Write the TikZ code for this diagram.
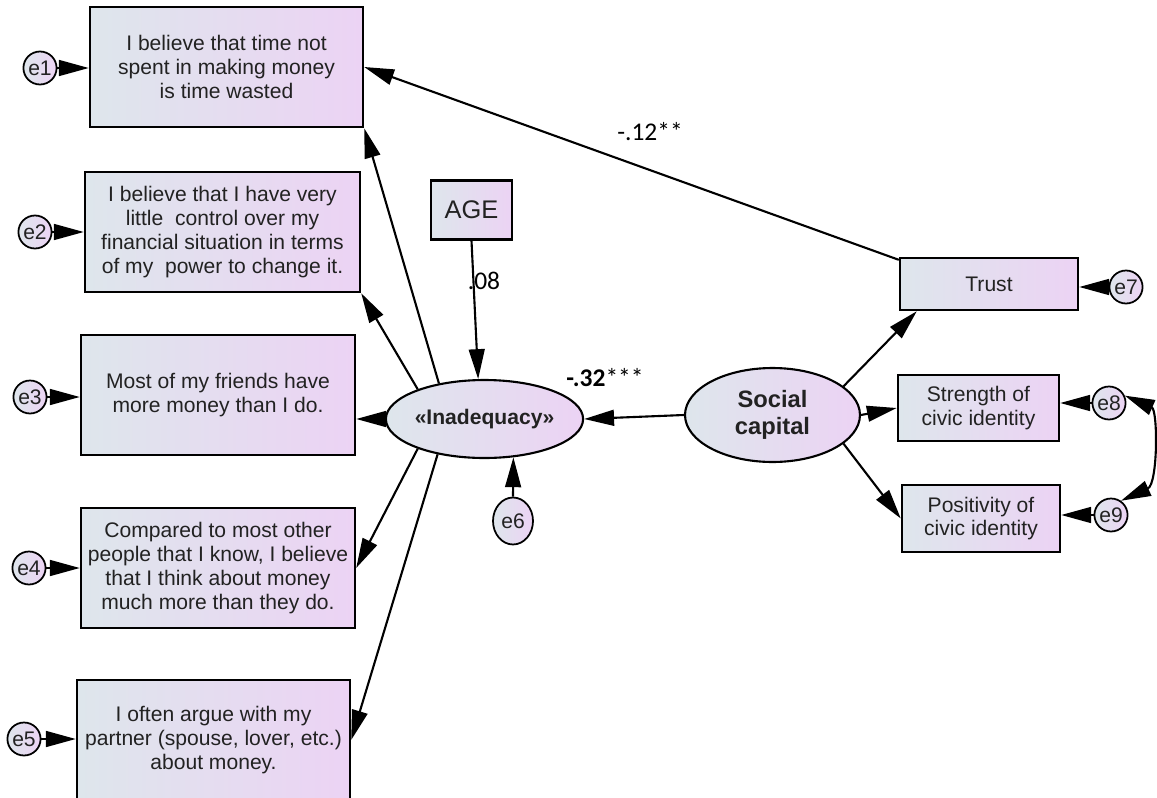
\documentclass[tikz,border=0pt]{standalone}
\usepackage{fontspec}
\setmainfont{Liberation Sans}
\newfontfamily\coeffont{Carlito}
\usetikzlibrary{arrows.meta,shapes.geometric}

\definecolor{fillleft}{RGB}{222,230,236}
\definecolor{fillright}{RGB}{236,211,244}
\definecolor{itemtext}{RGB}{34,34,34}

\begin{document}
\begin{tikzpicture}[
  x=0.02cm,
  y=-0.02cm,
  font=\fontsize{12}{13.6}\selectfont,
  item/.style={draw=black, line width=1.4pt, left color=fillleft, right color=fillright,
    text=itemtext, align=center, inner sep=1pt},
  latent/.style={ellipse, draw=black, line width=1.2pt, left color=fillleft, right color=fillright,
    text=itemtext, align=center, inner sep=0pt, font=\bfseries\fontsize{12}{15}\selectfont},
  err/.style={ellipse, draw=black, line width=1pt, left color=fillleft, right color=fillright,
    text=itemtext, inner sep=0pt, minimum width=0.56cm, minimum height=0.66cm},
  tip/.tip={Triangle[length=17pt,width=9pt]},
  effect/.style={line width=1.2pt, -tip},
  covar/.style={line width=1.2pt, tip-tip},
  coef/.style={font=\coeffont\fontsize{14.5}{16}\selectfont},
]
  \useasboundingbox (0,0) rectangle (1157,798);

  % indicators of inadequacy
  \node[item, minimum width=5.46cm, minimum height=2.4cm] (q1) at (226.5,67)
    {I believe that time not\\spent in making money\\is time wasted};
  \node[item, minimum width=5.5cm, minimum height=2.4cm] (q2) at (222.5,232)
    {I believe that I have very\\little\ \ control over my\\financial situation in terms\\of my\ \ power to change it.};
  \node[item, minimum width=5.48cm, minimum height=2.4cm] (q3) at (218,395)
    {Most of my friends have\\more money than I do.};
  \node[item, minimum width=5.48cm, minimum height=2.4cm] (q4) at (218,568)
    {Compared to most other\\people that I know, I believe\\that I think about money\\much more than they do.};
  \node[item, minimum width=5.46cm, minimum height=2.4cm] (q5) at (213.5,740)
    {I often argue with my\\partner (spouse, lover, etc.)\\about money.};

  % their errors
  \node[err] (e1) at (40,68) {e1};
  \node[err] (e2) at (35,232) {e2};
  \node[err] (e3) at (30,397) {e3};
  \node[err] (e4) at (29,568) {e4};
  \node[err] (e5) at (24,739) {e5};

  % latent variables
  \node[latent, minimum width=3.5cm, minimum height=1.56cm] (inad) at (484.5,419) {«Inadequacy»};
  \node[latent, minimum width=3.5cm, minimum height=1.88cm, font=\bfseries\fontsize{13.5}{15}\selectfont]
    (social) at (772.5,415) {Social\\capital};
  \node[item, minimum width=1.62cm, minimum height=1.18cm, font=\fontsize{14.5}{16}\selectfont]
    (age) at (471.5,210) {AGE};
  \node[err, minimum width=0.8cm, minimum height=0.94cm] (e6) at (513,521) {e6};

  % social capital indicators
  \node[item, minimum width=3.56cm, minimum height=1.04cm] (trust) at (989,284) {Trust};
  \node[item, minimum width=3.22cm, minimum height=1.32cm] (civstr) at (978.5,408)
    {Strength of\\civic identity};
  \node[item, minimum width=3.16cm, minimum height=1.34cm] (civpos) at (981,518.5)
    {Positivity of\\civic identity};
  \node[err] (e7) at (1126,287) {e7};
  \node[err] (e8) at (1109,403) {e8};
  \node[err] (e9) at (1111,515) {e9};

  % error paths
  \foreach \n in {1,...,5} {
    \draw[effect] (e\n.east) -- (e\n.east -| q\n.west);
  }
  \draw[effect] (e6.north) -- (inad.-53);
  \draw[effect] (e7.west) -- (e7.west -| trust.east);
  \draw[effect] (e8.west) -- (e8.west -| civstr.east);
  \draw[effect] (e9.west) -- (e9.west -| civpos.east);
  \draw[covar] (e8.25) .. controls (1158,410) and (1158,484) .. (e9.55);

  % loadings of inadequacy
  \draw[effect] (inad.142) -- (q1.south east);
  \draw[effect] (inad.156) -- (q2.south east);
  \draw[effect] (inad.west) -- (inad.west -| q3.east);
  \draw[effect] (inad.204) -- (q4.east);
  \draw[effect] (inad.217) -- (q5.east);

  % structural paths
  \draw[effect] (age.south) -- (inad.99);
  \draw[effect] (social.west) -- (inad.east);
  \draw[effect] (trust.165) -- (q1.east);
  \draw[effect] (social.22) -- ([xshift=0.36cm]trust.south west);
  \draw[effect] (social.east) -- (civstr.west);
  \draw[effect] (social.-22) -- (civpos.west);

  % coefficients
  \node[coef] (b-age) at (484,281) {.08};
  \node[coef] (b-social) at (605,378) {\textbf{-.32}***};
  \node[coef] (b-trust) at (650,132) {-.12**};
\end{tikzpicture}
\end{document}
